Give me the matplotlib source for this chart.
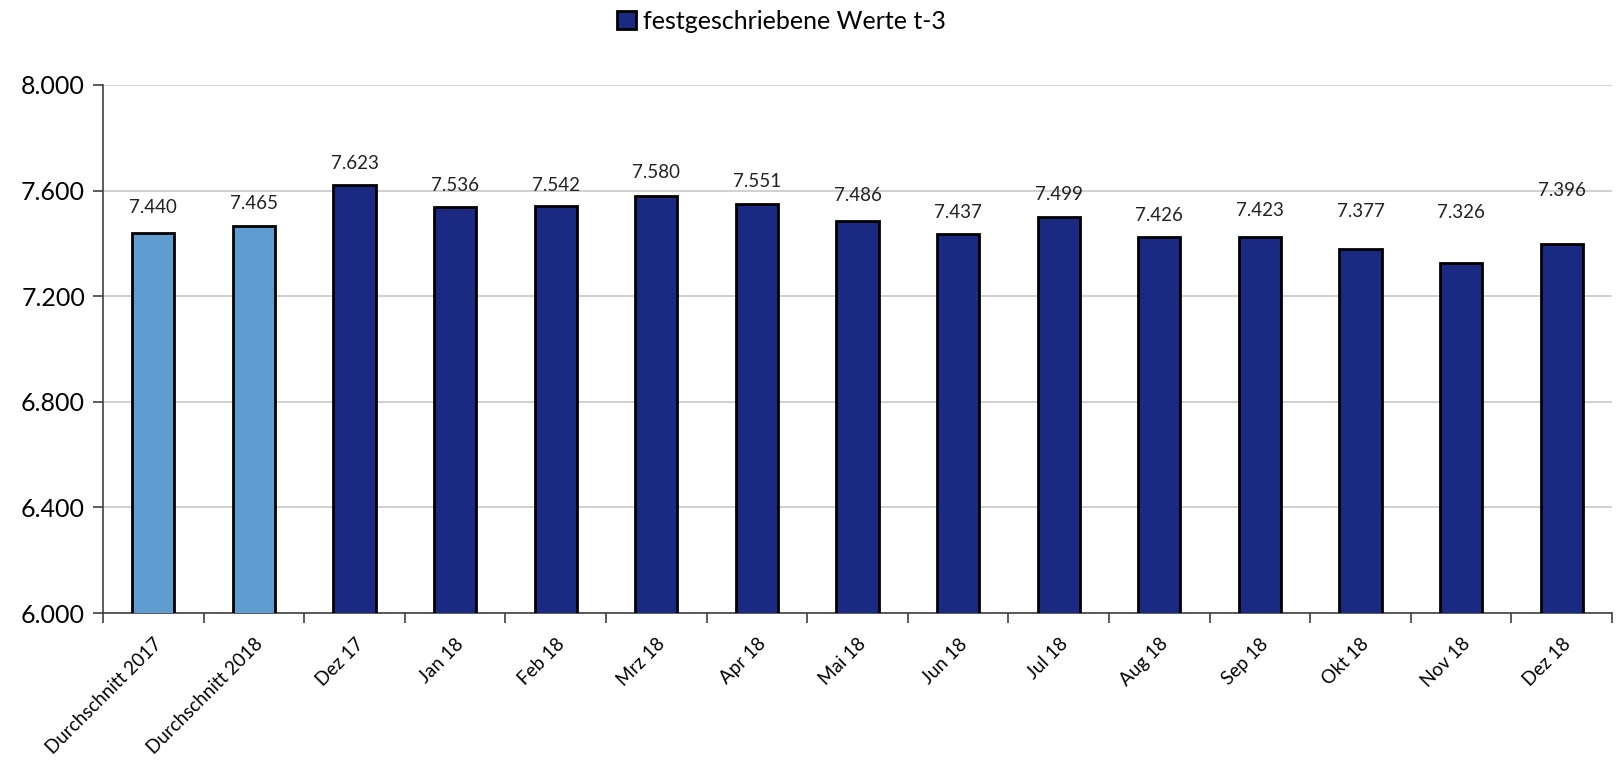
import matplotlib
matplotlib.use("Agg")
import matplotlib.pyplot as plt
from matplotlib.patches import Patch
from matplotlib.ticker import FuncFormatter, MultipleLocator
import numpy as np

categories = ["Durchschnitt 2017", "Durchschnitt 2018", "Dez 17", "Jan 18", "Feb 18",
              "Mrz 18", "Apr 18", "Mai 18", "Jun 18", "Jul 18", "Aug 18", "Sep 18",
              "Okt 18", "Nov 18", "Dez 18"]
values = [7440, 7465, 7623, 7536, 7542, 7580, 7551, 7486, 7437, 7499, 7426, 7423,
          7377, 7326, 7396]
series_name = "festgeschriebene Werte t-3"

# styling
light = "#5F9DD0"
dark = "#1A2A82"
bar_colors = [light, light] + [dark] * (len(values) - 2)
label_offsets_px = [25, 23, 21, 22, 20, 23, 22, 25, 21, 23, 21, 27, 38, 50, 54]

plt.rcParams['font.family'] = ['Lato', 'DejaVu Sans']

fig = plt.figure(figsize=(16.18, 7.6), dpi=100)
ax = fig.add_axes([0.0637, 0.1934, 0.9326, 0.6948])

x = np.arange(len(values))
bars = ax.bar(x, values, width=0.42, color=bar_colors, edgecolor="black",
              linewidth=2, bottom=0, zorder=3)

ax.set_ylim(6000, 8000)
ax.set_xlim(-0.5, len(values) - 0.5)
ax.yaxis.set_major_locator(MultipleLocator(400))
ax.yaxis.set_major_formatter(FuncFormatter(lambda v, p: f"{v:,.0f}".replace(",", ".")))
ax.grid(axis="y", color="#C8C8C8", linewidth=1.2, zorder=0)
ax.set_axisbelow(True)

for s in ["top", "right"]:
    ax.spines[s].set_visible(False)
for s in ["left", "bottom"]:
    ax.spines[s].set_color("#404040")
    ax.spines[s].set_linewidth(1.2)

ax.tick_params(axis="y", labelsize=18, length=7, width=1.2, color="#404040", pad=6)
ax.set_xticks(x)
ax.set_xticklabels(categories, rotation=45, ha="right", rotation_mode="anchor", fontsize=13.5)
ax.tick_params(axis="x", which="major", length=0, pad=16)
ax.set_xticks(np.arange(-0.5, len(values)), minor=True)
ax.tick_params(axis="x", which="minor", length=7, width=1.2, color="#404040")

for xi, v, off in zip(x, values, label_offsets_px):
    ax.annotate(f"{v:,.0f}".replace(",", "."), (xi, v), xytext=(0, off * 0.72),
                textcoords="offset points", ha="center", va="center", fontsize=13.5,
                color="#222222")

handle = Patch(facecolor=dark, edgecolor="black", linewidth=2)
fig.legend([handle], [series_name], loc="center", bbox_to_anchor=(0.483, 0.972),
           frameon=False, fontsize=18, handlelength=0.75, handleheight=0.75,
           handletextpad=0.3)

fig.savefig("out.png", dpi=100)
